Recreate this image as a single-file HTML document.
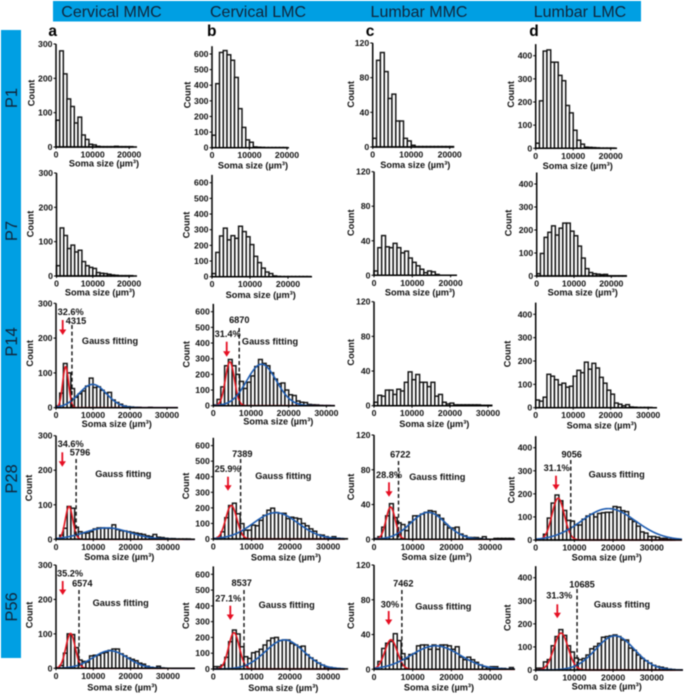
<!DOCTYPE html>
<html lang="en">
<head>
<meta charset="utf-8">
<title>Soma size distributions</title>
<style>
html,body{margin:0;padding:0;background:#fff;width:685px;height:694px;overflow:hidden}
svg{display:block;filter:blur(0.4px)}
text{font-family:"Liberation Sans",sans-serif}
.tick{font-size:8.7px;font-weight:700;fill:#111}
.lab{font-size:9.2px;font-weight:700;fill:#111}
.head{font-size:16px;fill:#10253a}
.side{font-size:16.5px;fill:#10253a}
.letter{font-size:15.5px;font-weight:700;fill:#000}
</style>
</head>
<body>
<svg id="chart" width="685" height="694" viewBox="0 0 685 694" xmlns="http://www.w3.org/2000/svg">
<rect x="53" y="1" width="588" height="20.5" fill="#009fe3"/>
<rect x="1" y="30" width="20" height="628" fill="#009fe3"/>
<text class="head" x="111.5" y="17" text-anchor="middle">Cervical MMC</text>
<text class="head" x="258" y="17" text-anchor="middle">Cervical LMC</text>
<text class="head" x="419" y="17" text-anchor="middle">Lumbar MMC</text>
<text class="head" x="580" y="17" text-anchor="middle">Lumbar LMC</text>
<text class="side" transform="translate(17,98) rotate(-90)" text-anchor="middle">P1</text>
<text class="side" transform="translate(17,231) rotate(-90)" text-anchor="middle">P7</text>
<text class="side" transform="translate(17,342) rotate(-90)" text-anchor="middle">P14</text>
<text class="side" transform="translate(17,479) rotate(-90)" text-anchor="middle">P28</text>
<text class="side" transform="translate(17,607) rotate(-90)" text-anchor="middle">P56</text>
<text class="letter" x="52.7" y="36" text-anchor="middle">a</text>
<text class="letter" x="211.7" y="36" text-anchor="middle">b</text>
<text class="letter" x="370" y="36" text-anchor="middle">c</text>
<text class="letter" x="534" y="36" text-anchor="middle">d</text>
</svg>
<script>
// ---- tick labels ----
const yTicksA = [0,100,200,300];
const yTicksB = [0,100,200,300,400,500,600];
const yTicksC = [0,40,80,120];
const yTicksD = [0,100,200,300,400];
const xTicksShort = [0,10000,20000];
const xTicksLong = [0,10000,20000,30000];

// ---- histogram counts (1000 µm³ bins) ----
const countsAP1 = [78,280,213,140,118,70,87,35,22,8,6,2,1,1,1,1,2,1,1,1,1];
const countsAP7 = [30,140,118,80,90,70,75,42,30,25,22,10,8,7,5,3,2,1,1,1,1];
const countsAP14 = [5,42,127,100,55,30,40,48,62,85,58,60,50,42,44,22,15,10,5,3,2,1,1,0,0,1,0,0,0,0,0];
const countsAP28 = [2,12,32,95,90,35,22,18,18,22,30,33,33,32,32,42,28,25,24,22,20,18,16,14,10,8,14,6,5,3,2,2,1,1,1,1];
const countsAP56 = [2,8,44,100,98,60,24,20,18,36,38,38,44,46,52,56,56,42,36,30,26,22,15,12,6,3,1,6,1,0];
const countsBP1 = [80,410,610,622,595,560,450,250,130,50,35,5,3,2,1,1,1,1,1,1];
const countsBP7 = [20,155,260,310,235,262,245,322,288,255,205,130,90,55,30,20,5,2,1,1,1,1,1,1,1,1];
const countsBP14 = [5,40,120,255,295,255,200,155,110,150,190,250,295,270,255,210,170,140,145,100,70,65,30,22,20,8,6,5,2,1,1];
const countsBP28 = [2,10,46,137,215,230,162,99,57,57,89,85,120,152,185,198,170,165,165,131,140,135,130,100,85,65,50,27,25,15,8,15,5,3,2];
const countsBP56 = [15,15,25,74,173,247,222,141,78,67,103,110,125,152,180,196,200,180,184,184,162,152,141,145,90,70,55,38,25,12,10,6,3,2,1];
const countsCP1 = [10,100,109,87,56,61,30,30,10,7,2,0.5,0.5,0.5,0.5,0.5,0.5,0.5,0.5,0.5,0.5];
const countsCP7 = [5,32,46,33,32,37,32,26,28,20,15,11,7,3,5,4,1,0,0,0,0,0];
const countsCP14 = [4,12,11,18,18,13,19,17,27,39,30,36,27,27,22,27,11,13,4,2,3,1,1,1,1,1,1,1,0.5,0.5,0.5];
const countsCP28 = [1,3,14,27,41,25,19,17,10,20,27,27,29,31,33,32,28,24,17,13,13,14,6,4,2,2,2,1,3,0,0,1,1,1,1,1];
const countsCP56 = [1,9,24,30,32,41,33,18,12,17,18,27,28,28,23,28,23,28,28,27,23,26,14,11,14,11,8,5,3,2,3,3,1,1,0,2];
const countsDP1 = [22,205,420,425,372,372,315,292,185,153,78,35,18,5,4,3,2,1,1,1,1];
const countsDP7 = [10,98,168,190,218,178,208,230,230,195,175,130,78,32,15,10,8,6,7,1,1,1,1,1];
const countsDP14 = [33,28,45,143,135,120,98,105,88,92,135,160,150,195,165,190,170,130,105,75,58,20,15,8,13,3,2,1,1,1,1];
const countsDP28 = [2,5,25,95,160,195,170,128,85,82,65,65,90,104,112,100,115,118,120,120,145,142,127,123,90,80,60,35,30,15,15,12,7,7,3,2];
const countsDP56 = [8,8,35,45,105,145,175,150,105,78,52,45,50,65,92,102,115,142,145,148,152,145,130,130,95,85,65,50,40,30,20,15,12,8,4,2];

// ---- gauss fits: [peak count, centre µm³, sigma µm³] ----
const redFitAP14 = [118,2600,800];    const blueFitAP14 = [67,9900,3700];
const redFitAP28 = [95,3500,1000];    const blueFitAP28 = [33,13700,6000];
const redFitAP56 = [101,3900,1250];   const blueFitAP56 = [51,14500,4600];
const redFitBP14 = [280,4400,1200];   const blueFitBP14 = [265,12800,3900];
const redFitBP28 = [215,4700,1450];   const blueFitBP28 = [169,16300,5800];
const redFitBP56 = [230,5400,1400];   const blueFitBP56 = [184,18600,5000];
const redFitCP28 = [37,4300,1200];    const blueFitCP28 = [31,14000,4500];
const redFitCP56 = [34,4400,1600];    const blueFitCP56 = [27,15900,6300];
const redFitDP28 = [181,5800,1600];   const blueFitDP28 = [136,18800,7000];
const redFitDP56 = [160,6550,1830];   const blueFitDP56 = [148,20500,5000];

// ---- printed threshold values and percentages ----
const thresholds = {aP14:4315,bP14:6870,aP28:5796,bP28:7389,cP28:6722,dP28:9056,aP56:6574,bP56:8537,cP56:7462,dP56:10685};
const percents = {aP14:"32.6%",bP14:"31.4%",aP28:"34.6%",bP28:"25.9%",cP28:"28.8%",dP28:"31.1%",aP56:"35.2%",bP56:"27.1%",cP56:"30%",dP56:"31.3%"};

// ---- layout (axes frames and annotation anchors, not data) ----
const panels = [
 {id:"aP1",counts:countsAP1,yT:yTicksA,xT:xTicksShort,yMax:300,axisMax:300,x0:56,y0:147,top:44,k:36.6,end:137,xl:[104,163.3],cl:[31.7,93]},
 {id:"aP7",counts:countsAP7,yT:yTicksA,xT:xTicksShort,yMax:300,axisMax:300,x0:56.5,y0:276,top:173,k:36.3,end:137,xl:[100,292.3],cl:[30.7,224]},
 {id:"aP14",counts:countsAP14,yT:yTicksA,xT:xTicksLong,yMax:300,axisMax:300,x0:56,y0:407.7,top:303.3,k:37,end:178,xl:[116.7,424],cl:[30,353.3],red:redFitAP14,blue:blueFitAP14,
  ann:{pct:[70.7,312],thr:[76,321],dashTop:325,dashDx:0,gauss:[110,341],arrow:[62.7,320,335]}},
 {id:"aP28",counts:countsAP28,yT:yTicksA,xT:xTicksLong,yMax:300,axisMax:300,x0:56,y0:539.3,top:435.7,k:37.3,end:195,xl:[119.3,557],cl:[29,488],red:redFitAP28,blue:blueFitAP28,
  ann:{pct:[70.7,444],thr:[80,452.7],dashTop:459,dashDx:-1.5,gauss:[123.3,474],arrow:[62.3,452.3,466.7]}},
 {id:"aP56",counts:countsAP56,yT:yTicksA,xT:xTicksLong,yMax:300,axisMax:300,x0:56,y0:668.3,top:565,k:37.3,end:195,xl:[122.3,687.3],cl:[29.3,615],red:redFitAP56,blue:blueFitAP56,
  ann:{pct:[70,573.7],thr:[82.3,583.7],dashTop:590,dashDx:-1.5,gauss:[120.7,603],arrow:[62.7,581,595]}},

 {id:"bP1",counts:countsBP1,yT:yTicksB,xT:xTicksShort,yMax:600,axisMax:650,x0:212,y0:147.7,top:54,k:37.5,end:289,xl:[253,165.7],cl:[187.3,95]},
 {id:"bP7",counts:countsBP7,yT:yTicksB,xT:xTicksShort,yMax:600,axisMax:650,x0:212,y0:276.7,top:182.7,k:38,end:312,xl:[260.7,295],cl:[186.7,225]},
 {id:"bP14",counts:countsBP14,yT:yTicksB,xT:xTicksLong,yMax:600,axisMax:650,x0:213.3,y0:405.7,top:311.7,k:37.7,end:335,xl:[278.3,421.7],cl:[186.7,354.3],red:redFitBP14,blue:blueFitBP14,
  ann:{pct:[227.7,334],thr:[239.3,320],dashTop:328,dashDx:0,gauss:[270,341.7],arrow:[226.7,341.7,356.7]}},
 {id:"bP28",counts:countsBP28,yT:yTicksB,xT:xTicksLong,yMax:600,axisMax:650,x0:213.3,y0:539,top:445.6,k:38.3,end:345,xl:[286,557.7],cl:[186,486],red:redFitBP28,blue:blueFitBP28,
  ann:{pct:[227.7,469],thr:[242.3,454],dashTop:459,dashDx:-1,gauss:[283.3,476],arrow:[228,476.7,490.7]}},
 {id:"bP56",counts:countsBP56,yT:yTicksB,xT:xTicksLong,yMax:600,axisMax:650,x0:213.3,y0:669,top:574.3,k:38.3,end:345,xl:[283.3,688],cl:[186,615.7],red:redFitBP56,blue:blueFitBP56,
  ann:{pct:[228.3,598.3],thr:[241.7,583],dashTop:590,dashDx:-2,gauss:[286.7,605],arrow:[230.3,605.7,620]}},

 {id:"cP1",counts:countsCP1,yT:yTicksC,xT:xTicksShort,yMax:120,axisMax:120,x0:372.7,y0:147,top:43,k:38.5,end:454,xl:[415.3,165],cl:[351,94.3]},
 {id:"cP7",counts:countsCP7,yT:yTicksC,xT:xTicksShort,yMax:120,axisMax:120,x0:374,y0:275.3,top:171.7,k:38.3,end:457,xl:[420,292.3],cl:[351,222.7]},
 {id:"cP14",counts:countsCP14,yT:yTicksC,xT:xTicksLong,yMax:120,axisMax:120,x0:374,y0:405.7,top:301.7,k:38,end:491.7,xl:[434.3,424],cl:[351,352.3]},
 {id:"cP28",counts:countsCP28,yT:yTicksC,xT:xTicksLong,yMax:120,axisMax:120,x0:374,y0:539.3,top:435,k:38.7,end:515,xl:[436.7,557],cl:[351,487],red:redFitCP28,blue:blueFitCP28,
  ann:{pct:[389,475],thr:[400.3,454.3],dashTop:461,dashDx:-1.5,gauss:[437.3,477],arrow:[389,482.3,496.7]}},
 {id:"cP56",counts:countsCP56,yT:yTicksC,xT:xTicksLong,yMax:120,axisMax:120,x0:374,y0:669.3,top:565,k:38.7,end:515,xl:[439,687.3],cl:[351,615.7],red:redFitCP56,blue:blueFitCP56,
  ann:{pct:[390,604.3],thr:[403.3,583.7],dashTop:590,dashDx:-1,gauss:[443.3,606.7],arrow:[388.7,611,625]}},

 {id:"dP1",counts:countsDP1,yT:yTicksD,xT:xTicksShort,yMax:400,axisMax:450,x0:535.7,y0:148.3,top:55.7,k:37.5,end:617,xl:[577.7,166],cl:[511,94.3]},
 {id:"dP7",counts:countsDP7,yT:yTicksD,xT:xTicksShort,yMax:400,axisMax:450,x0:536.7,y0:276,top:184,k:37.3,end:627,xl:[582.7,292.3],cl:[508.3,223]},
 {id:"dP14",counts:countsDP14,yT:yTicksD,xT:xTicksLong,yMax:400,axisMax:450,x0:535.7,y0:407.7,top:314.3,k:37.5,end:657,xl:[601.7,425.3],cl:[507.7,354]},
 {id:"dP28",counts:countsDP28,yT:yTicksD,xT:xTicksLong,yMax:400,axisMax:450,x0:535.7,y0:540,top:447.7,k:38.7,end:682,xl:[606.7,557.3],cl:[511.7,490],red:redFitDP28,blue:blueFitDP28,
  ann:{pct:[556.7,468],thr:[571.7,454.3],dashTop:460,dashDx:0,gauss:[616.7,474.3],arrow:[556,475.7,490]}},
 {id:"dP56",counts:countsDP56,yT:yTicksD,xT:xTicksLong,yMax:400,axisMax:450,x0:535.7,y0:670,top:577.7,k:38.7,end:683,xl:[606.7,686.7],cl:[507.7,617.7],red:redFitDP56,blue:blueFitDP56,
  ann:{pct:[559.3,595.7],thr:[582,584.3],dashTop:589,dashDx:0,gauss:[622,604.3],arrow:[557.3,604.3,618.3]}}
];

const NS = "http://www.w3.org/2000/svg";
const svg = document.getElementById("chart");
function make(tag, parent, props){
  const el = document.createElementNS(NS, tag);
  for (const key in props) el.setAttribute(key, props[key]);
  parent.appendChild(el);
  return el;
}
function textAt(parent, x, y, cls, str){
  const t = make("text", parent, {x:x, y:y, class:cls, "text-anchor":"middle"});
  t.textContent = str;
  return t;
}
function gaussPath(fit, xScale, yScale, maxX){
  let d = "";
  for (let v = 0; v <= maxX; v += 100){
    const u = (v - fit[1]) / fit[2];
    d += (d ? "L" : "M") + xScale(v).toFixed(2) + " " + yScale(fit[0] * Math.exp(-0.5 * u * u)).toFixed(2);
  }
  return d;
}

panels.forEach(function(p){
  const xScale = v => p.x0 + v / 10000 * p.k;
  const yScale = v => p.y0 - v / p.yMax * (p.y0 - p.top);
  const g = make("g", svg, {});
  
  

  // bars
  p.counts.forEach(function(c, i){
    if (c <= 0) return;
    const b = make("rect", g, {
      x: xScale(i * 1000), y: yScale(c),
      width: xScale(1000) - xScale(0), height: p.y0 - yScale(c),
      fill: "#fff", stroke: "#111", "stroke-width": 1.45
    });
    
    
  });

  // gauss fits
  if (p.red){
    const maxX = (p.end - p.x0) / p.k * 10000;
    const r = make("path", g, {d: gaussPath(p.red, xScale, yScale, maxX), fill:"none", stroke:"#e2151f", "stroke-width":1.6});
    
    
    const bl = make("path", g, {d: gaussPath(p.blue, xScale, yScale, maxX), fill:"none", stroke:"#1d5bb0", "stroke-width":1.6});
    
    
  }

  // axes
  const ya = make("line", g, {x1:p.x0, x2:p.x0, y1:yScale(p.axisMax), y2:p.y0 + 0.7, stroke:"#000", "stroke-width":1.5});
  
  
  const xa = make("line", g, {x1:p.x0, x2:p.end, y1:p.y0, y2:p.y0, stroke:"#000", "stroke-width":1.5});
  
  

  p.yT.forEach(function(v){
    const tk = make("line", g, {x1:p.x0 - 2.5, x2:p.x0, y1:yScale(v), y2:yScale(v), stroke:"#000", "stroke-width":1});
    
    
    const lb = textAt(g, p.x0 - 3.5, yScale(v) + 3, "tick", String(v));
    lb.setAttribute("text-anchor", "end");
    
    
  });
  p.xT.forEach(function(v){
    const tk = make("line", g, {x1:xScale(v), x2:xScale(v), y1:p.y0, y2:p.y0 + 2, stroke:"#000", "stroke-width":1});
    
    
    const lb = textAt(g, xScale(v), p.y0 + 10.5, "tick", String(v));
    
    
  });

  const xt = textAt(g, p.xl[0], p.xl[1] + 3, "lab", "Soma size (µm³)");
  
  
  const yt = textAt(g, 0, 0, "lab", "Count");
  yt.setAttribute("transform", "translate(" + (p.cl[0] + 3) + "," + p.cl[1] + ") rotate(-90)");
  
  

  // annotations
  if (p.ann){
    const a = p.ann;
    const dx = xScale(thresholds[p.id]) + a.dashDx;
    const dash = make("line", g, {x1:dx, x2:dx, y1:a.dashTop, y2:p.y0, stroke:"#111", "stroke-width":1.4, "stroke-dasharray":"4 2.6"});
    
    
    const t1 = textAt(g, a.pct[0], a.pct[1] + 3, "lab", percents[p.id]);
    
    
    const t2 = textAt(g, a.thr[0], a.thr[1] + 3, "lab", String(thresholds[p.id]));
    
    
    const t3 = textAt(g, a.gauss[0], a.gauss[1] + 3, "lab", "Gauss fitting");
    
    
    const ar = a.arrow;
    const shaft = make("line", g, {x1:ar[0], x2:ar[0], y1:ar[1], y2:ar[2] - 4, stroke:"#e60f23", "stroke-width":1.8});
    
    
    const head = make("polygon", g, {points:(ar[0]-3.6)+","+(ar[2]-5.5)+" "+(ar[0]+3.6)+","+(ar[2]-5.5)+" "+ar[0]+","+ar[2], fill:"#e60f23"});
    
    
  }
});
</script>
</body>
</html>
